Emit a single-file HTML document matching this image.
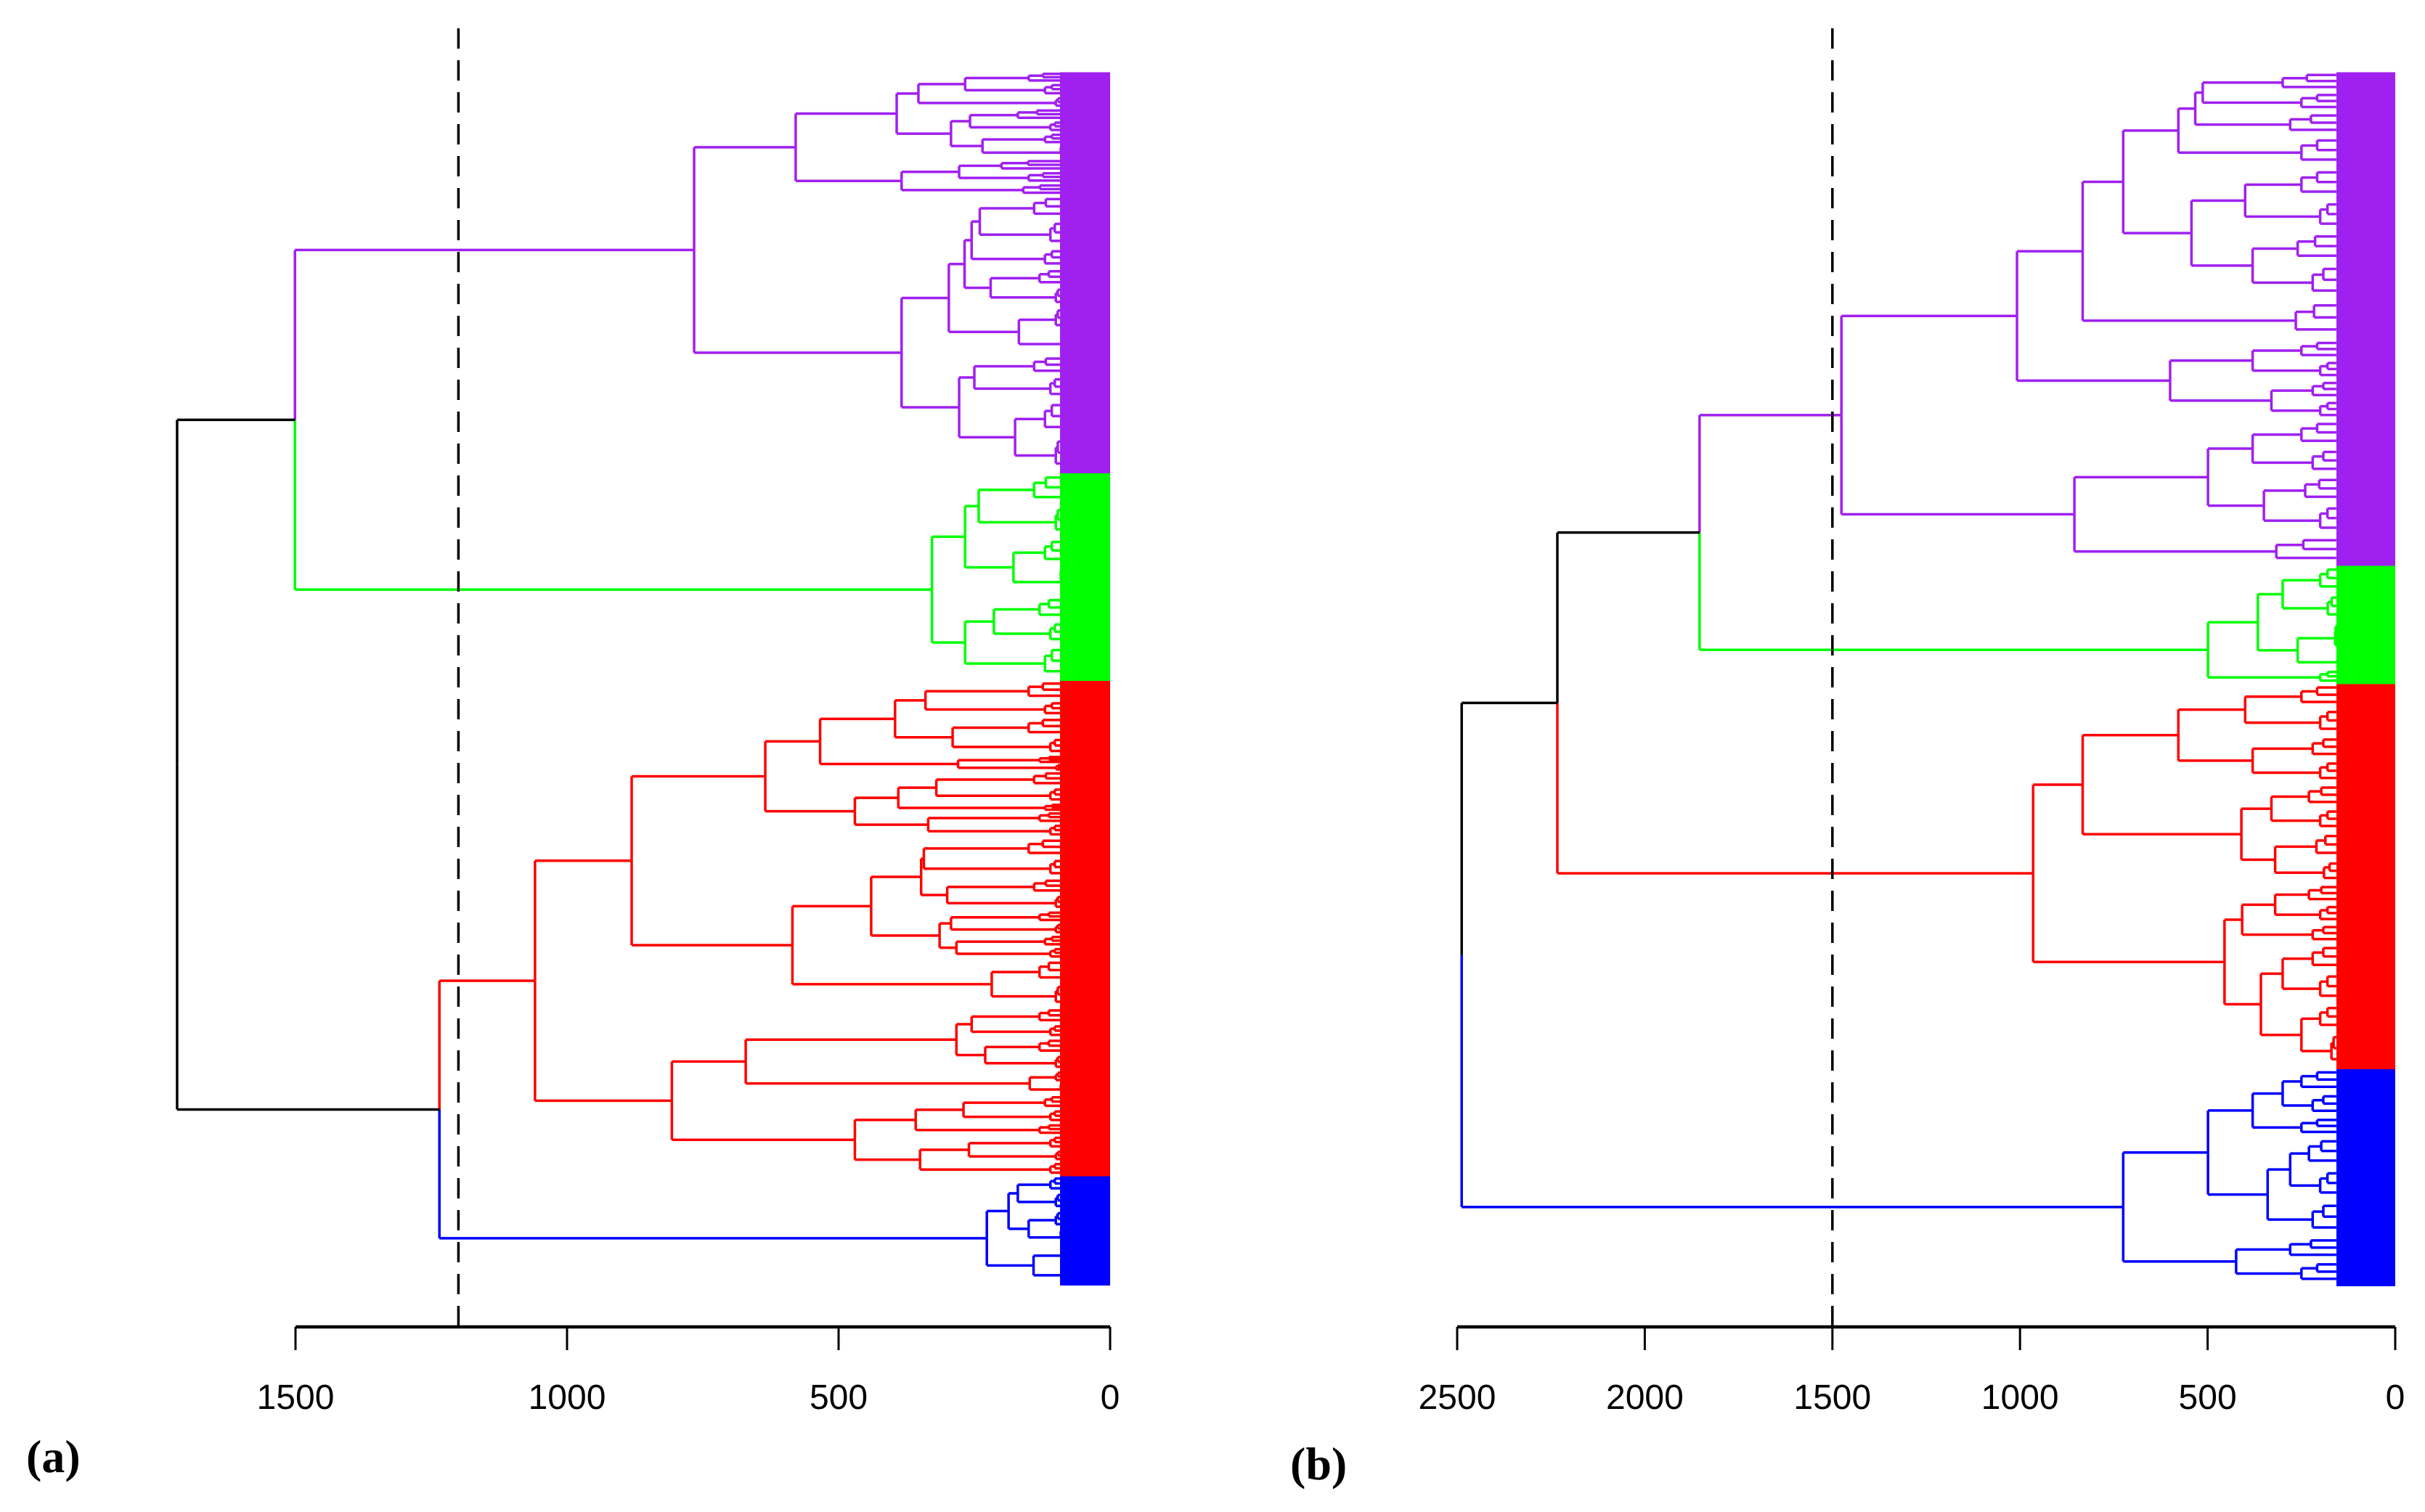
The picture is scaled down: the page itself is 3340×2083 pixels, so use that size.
<!DOCTYPE html>
<html>
<head>
<meta charset="utf-8">
<style>
html,body{margin:0;padding:0;background:#fff;}
svg{display:block;}
</style>
</head>
<body>
<svg id="chart" width="3340" height="2083" viewBox="0 0 3340 2083" xmlns="http://www.w3.org/2000/svg">
  <rect x="0" y="0" width="3340" height="2083" fill="#fff"/>
  <g id="panelA"></g>
  <g id="panelB"></g>
  <text x="36" y="2028" font-family="Liberation Serif, serif" font-weight="bold" font-size="64">(a)</text>
  <text x="1777" y="2038" font-family="Liberation Serif, serif" font-weight="bold" font-size="64">(b)</text>
</svg>
<script>
// ---- data: panel (a) ----
const treeA = [1718,
  [1501,
    [766,
      [579,
        [393,
          [353, [267, [150,27], [120,33]], [100,30]],
          [293, [258, [170,30], [110,30]], [235, [120,30], [90,35]]]],
        [384, [278, [200,30], [150,30]], [160,30]]],
      [384,
        [297,
          [268, [255, [240, [140,60], [110,70]], [120,50]], [220, [130,45], [100,50]]],
          [168, [100,60], [80,60]]],
        [278, [250, [140,50], [110,60]], [175, [120,90], [100,90]]]],
      'purple'],
    [328,
      [267, [242, [140,80], [100,80]], [178, [120,70], [90,75]]],
      [267, [214, [130,60], [110,60]], [120,87]],
      'green']],
  [1235,
    [1059,
      [881,
        [635,
          [534, [396, [340, [150,50], [120,40]], [290, [150,50], [110,45]]], [280, [130,20], [100,18]]],
          [470, [390, [320, [140,40], [110,40]], [120,20]], [335, [130,30], [110,35]]]],
        [585,
          [440, [348, [343, [150,50], [110,50]], [300, [140,40], [100,40]]],
                [314, [293, [130,30], [100,30]], [283, [120,30], [110,30]]]],
          [218, [130,60], [100,60]]]],
      [807,
        [671, [283, [255, [130,40], [110,35]], [230, [130,40], [100,40]]], [148, [100,30], [90,30]]],
        [470, [358, [270, [120,35], [110,35]], [130,30]], [350, [260, [110,35], [100,30]], [110,35]]]],
      'red'],
    [227,
      [187, [170, [110,40], [100,45]], [150, [100,45], [90,40]]],
      [141, [80,50], [70,47]],
      'blue']]];
const ticksA = [1500, 1000, 500, 0];
const cutA = 1200;
const fringeA = 92;

// ---- data: panel (b) ----
const treeB = [2488,
  [2233,
    [1854,
      [1476,
        [1008,
          [833,
            [725,
              [578, [533, [513, [300,25], [250,25]], [280,30]], [250,40]],
              [543, [400, [250,40], [200,40]], [380, [260,40], [220,45]]]],
            [265,50]],
          [600, [380, [250,25], [200,25]], [330, [220,25], [200,25]]]],
        [855,
          [499, [380, [250,35], [220,35]], [350, [240,35], [200,40]]],
          [317,37]],
        'purple'],
      [499,
        [366, [300, [200,35], [180,35]], [260, [160,40], [150,20]]],
        [200,18],
        'green']],
    [965,
      [833,
        [578, [400, [250,30], [200,35]], [380, [220,30], [200,30]]],
        [410, [330, [230,30], [200,30]], [320, [210,35], [190,30]]]],
      [455,
        [408, [320, [230,25], [200,25]], [220,25]],
        [358, [300, [220,35], [200,40]], [250, [200,35], [170,46]]]],
      'red']],
  [725,
    [499, [380, [300, [250,30], [220,30]], [250,25]], [340, [280, [230,40], [200,40]], [220,45]]],
    [424, [280,30], [250,30]],
    'blue']];
const ticksB = [2500, 2000, 1500, 1000, 500, 0];
const cutB = 1500;
const fringeB = 157;

const COLORS = {purple:'#A020F0', green:'#00FF00', red:'#FF0000', blue:'#0000FF', black:'#000000'};
const NS = 'http://www.w3.org/2000/svg';

function mk(tag, attrs, parent){
  const el = document.createElementNS(NS, tag);
  for (const k in attrs) el.setAttribute(k, attrs[k]);
  parent.appendChild(el);
  return el;
}
function isLeaf(n){ return n.length === 2; }
function totalW(n){ return isLeaf(n) ? n[1] : totalW(n[1]) + totalW(n[2]); }

function drawPanel(g, tree, cfg){
  const xs = v => cfg.x0 - v * cfg.k;
  const scaleY = (cfg.yBot - cfg.yTop) / totalW(tree);
  let cursor = cfg.yTop;
  const lw = 3.5;

  function line(x1,y1,x2,y2,color,name){
    const l = mk('line', {x1:x1,y1:y1,x2:x2,y2:y2,stroke:COLORS[color],'stroke-width':lw}, g);
    
    
    return l;
  }

  function rec(n, color){
    if (isLeaf(n)){
      const h = n[0], w = n[1] * scaleY;
      const top = cursor; cursor += w;
      const xf = xs(cfg.fringe), x0 = xs(0);
      const r = mk('rect', {x:xf, y:top - 0.5, width:x0 - xf, height:w + 1.5, fill:COLORS[color], 'shape-rendering':'crispEdges'}, g);
      
      
      const y1 = top + w*0.28, y2 = top + w*0.72;
      const xh = xs(h);
      line(xh, y1, xh, y2, color, 'leaf-merge');
      const hs = cfg.fringe + (h - cfg.fringe) * 0.55;
      const xsb = xs(hs);
      const s1 = top + w*0.12, s2 = top + w*0.42;
      line(xh, y1, xsb, y1, color, 'leaf-branch');
      line(xsb, s1, xsb, s2, color, 'leaf-merge');
      line(xsb, s1, xf, s1, color, 'leaf-branch');
      line(xsb, s2, xf, s2, color, 'leaf-branch');
      line(xh, y2, xf, y2, color, 'leaf-branch');
      return {y: (y1 + y2)/2, h: h, color: color};
    }
    const own = n[3] || color;
    const a = rec(n[1], own), b = rec(n[2], own);
    const xh = xs(n[0]);
    const ym = (a.y + b.y)/2;
    const ca = n[3] ? own : (color === 'black' ? (a.cl || 'black') : own);
    const cb = n[3] ? own : (color === 'black' ? (b.cl || 'black') : own);
    line(xh, a.y, xh, ym, ca, 'merge-vertical');
    line(xh, ym, xh, b.y, cb, 'merge-vertical');
    line(xh, a.y, xs(a.h), a.y, ca, 'merge-horizontal');
    line(xh, b.y, xs(b.h), b.y, cb, 'merge-horizontal');
    return {y: ym, h: n[0], color: own, cl: n[3] || null};
  }
  rec(tree, 'black');

  const xc = xs(cfg.cut);
  const d = mk('line', {x1:xc, y1:39, x2:xc, y2:cfg.axisY, stroke:'#000','stroke-width':3.5,'stroke-dasharray':'28 16'}, g);
  
  

  const ax = mk('line', {x1:xs(cfg.ticks[0]), y1:cfg.axisY, x2:xs(0), y2:cfg.axisY, stroke:'#000','stroke-width':4.5}, g);
  
  
  cfg.ticks.forEach(t => {
    const tk = mk('line', {x1:xs(t), y1:cfg.axisY, x2:xs(t), y2:cfg.axisY + 32, stroke:'#000','stroke-width':3}, g);
    
    
    const tx = mk('text', {x:xs(t), y:cfg.axisY + 113, 'text-anchor':'middle','font-family':'Liberation Sans, sans-serif','font-size':48,fill:'#000'}, g);
    tx.textContent = String(t);
    
    
  });
}

drawPanel(document.getElementById('panelA'), treeA,
  {x0:1529, k:0.748, yTop:100, yBot:1770, axisY:1828, ticks:ticksA, cut:cutA, fringe:fringeA});
drawPanel(document.getElementById('panelB'), treeB,
  {x0:3299, k:0.5168, yTop:100, yBot:1771, axisY:1828, ticks:ticksB, cut:cutB, fringe:fringeB});
</script>
</body>
</html>
